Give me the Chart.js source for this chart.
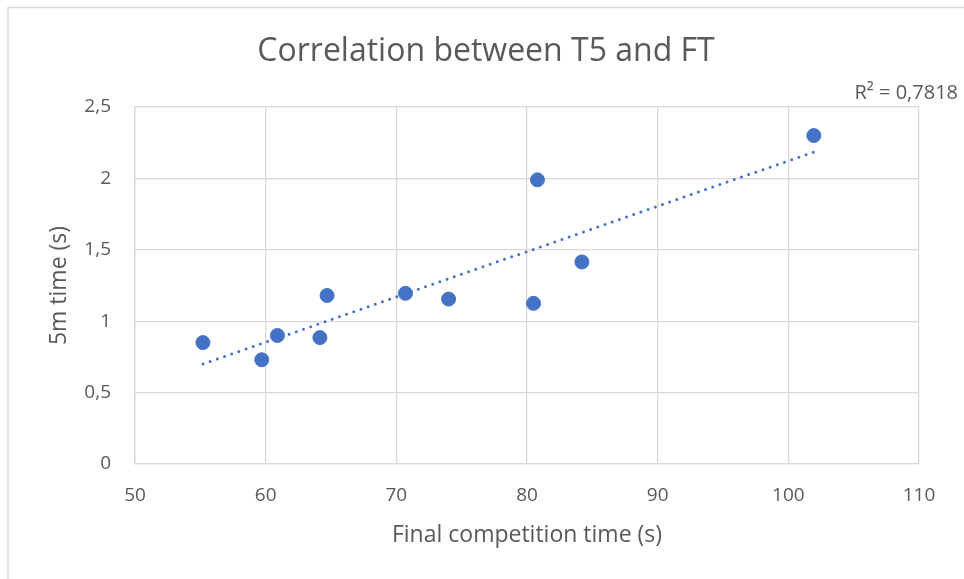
<!DOCTYPE html>
<html>
<head>
<meta charset="utf-8">
<script src="https://cdn.jsdelivr.net/npm/chart.js@4.4.1/dist/chart.umd.min.js"></script>
<style>
  html, body { margin: 0; padding: 0; background: #fff; }
  #wrap { position: relative; width: 964px; height: 579px; }
</style>
</head>
<body>
<div id="wrap"><canvas id="chart-corr"></canvas></div>
<script>
// ===== DATA =====
const finalTimes = [55.2, 59.7, 60.9, 64.7, 64.15, 70.7, 74.0, 80.5, 80.8, 84.2, 101.95];
const t5Times    = [0.85, 0.73, 0.90, 1.18, 0.885, 1.195, 1.155, 1.125, 1.99, 1.415, 2.30];
const trendX = [55.2, 101.95];
const trendY = [0.70, 2.185];
const chartTitle = 'Correlation between T5 and FT';
const rSquaredLabel = 'R² = 0,7818';

const TEXT = '#595959';
const GRID = '#d9d9d9';
const BLUE = '#4472c4';
const FONT = "'Open Sans', sans-serif";

// frame, title (centred on the whole frame like Excel) + R² label
const extras = {
  id: 'extras',
  afterDraw(chart) {
    const ctx = chart.ctx;
    ctx.save();
    ctx.strokeStyle = GRID;
    ctx.lineWidth = 1.5;
    ctx.beginPath();
    ctx.moveTo(8, 579);
    ctx.lineTo(8, 7.5);
    ctx.lineTo(964, 7.5);
    ctx.stroke();

    ctx.fillStyle = TEXT;
    ctx.textBaseline = 'middle';
    ctx.font = `32px ${FONT}`;
    ctx.textAlign = 'center';
    ctx.fillText(chartTitle, 486, 52);

    ctx.font = `20px ${FONT}`;
    ctx.textAlign = 'right';
    ctx.fillText(rSquaredLabel, 958, 93);
    ctx.restore();
  }
};

const ctx = document.getElementById('chart-corr').getContext('2d');
new Chart(ctx, {
  type: 'scatter',
  data: {
    datasets: [
      {
        label: 'T5',
        data: finalTimes.map((x, i) => ({ x, y: t5Times[i] })),
        backgroundColor: BLUE,
        borderColor: BLUE,
        pointRadius: 7,
        pointHoverRadius: 7,
        order: 0
      },
      {
        label: 'Linear trend',
        type: 'line',
        data: trendX.map((x, i) => ({ x, y: trendY[i] })),
        borderColor: BLUE,
        borderWidth: 3,
        borderDash: [0, 7.6],
        borderCapStyle: 'round',
        pointRadius: 0,
        fill: false,
        order: 1
      }
    ]
  },
  options: {
    responsive: true,
    maintainAspectRatio: false,
    animation: false,
    layout: { padding: { left: 10, right: 45, top: 107, bottom: 0 } },
    plugins: {
      legend: { display: false },
      tooltip: { enabled: false },
      title: { display: false }
    },
    scales: {
      x: {
        type: 'linear',
        min: 50,
        max: 110,
        ticks: { stepSize: 10, color: TEXT, font: { family: FONT, size: 19 }, padding: 20 },
        grid: { color: GRID, lineWidth: 1.3, drawTicks: false },
        border: { color: GRID, width: 1.3 },
        title: {
          display: true,
          text: 'Final competition time (s)',
          color: TEXT,
          font: { family: FONT, size: 23 },
          padding: { top: 6, bottom: 30 }
        },
        afterFit(scale) { scale.height = 115; }
      },
      y: {
        min: 0,
        max: 2.5,
        ticks: {
          stepSize: 0.5,
          color: TEXT,
          font: { family: FONT, size: 19 },
          padding: 24,
          callback: v => String(v).replace('.', ',')
        },
        grid: { color: GRID, lineWidth: 1.3, drawTicks: false },
        border: { color: GRID, width: 1.3 },
        title: {
          display: true,
          text: '5m time (s)',
          color: TEXT,
          font: { family: FONT, size: 23 },
          padding: { top: 36, bottom: 6 }
        },
        afterFit(scale) { scale.width = 125; }
      }
    }
  },
  plugins: [extras]
});
</script>
</body>
</html>
